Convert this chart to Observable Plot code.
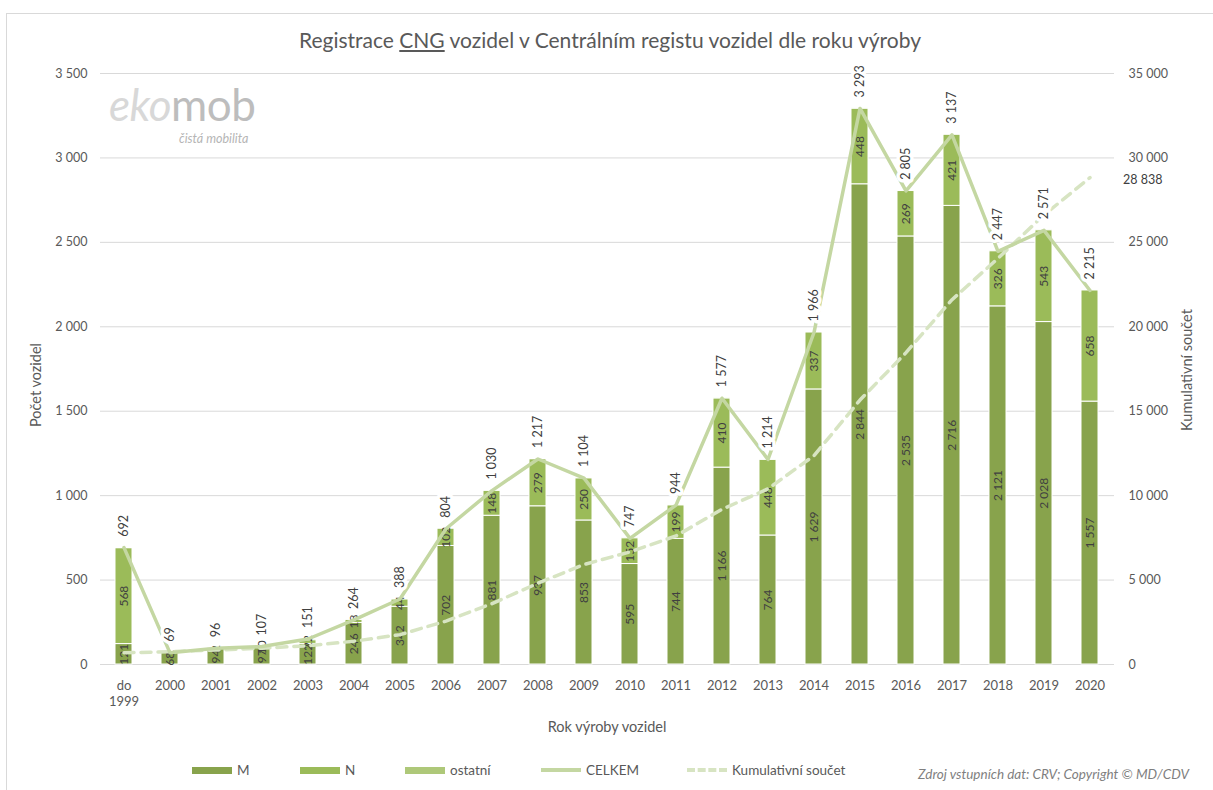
<!DOCTYPE html>
<html>
<head>
<meta charset="utf-8">
<script src="https://cdn.jsdelivr.net/npm/d3@7"></script>
<script src="https://cdn.jsdelivr.net/npm/@observablehq/plot@0.6"></script>
<style>
  body { margin: 0; background: #fff; font-family: Lato, "Open Sans", sans-serif; }
  #wrap { position: relative; width: 1213px; height: 790px; overflow: hidden; background: #fff; }
  #frame { position: absolute; left: 6px; top: 13px; width: 1240px; height: 800px; border: 1px solid #d9d9d9; }
  #chart { position: absolute; left: 0; top: 0; }
  .abs { position: absolute; white-space: nowrap; }
  #title { left: 0; width: 1220px; top: 27px; text-align: center; font-size: 21px; color: #595959; }
  #ytitle { left: 35px; top: 385px; transform: translate(-50%, -50%) rotate(-90deg); font-size: 14.5px; color: #595959; }
  #y2title { left: 1186px; top: 370px; transform: translate(-50%, -50%) rotate(-90deg); font-size: 14.5px; color: #595959; }
  #xtitle { left: 0; width: 1214px; top: 718px; text-align: center; font-size: 14.5px; color: #595959; }
  #logo { left: 109px; top: 86px; width: 170px; height: 62px; }
  #logo .big { position: absolute; left: 0; top: 0; height: 36px; font-size: 44px; line-height: 36px; letter-spacing: -0.5px; }
  #logo .big i { color: #d8d8d8; }
  #logo .big span { color: #bdbdbd; }
  #logo .small { position: absolute; left: 70px; top: 46px; font-size: 12.5px; line-height: 13px; font-style: italic; color: #b5b5b5; }
  .leg { top: 762px; font-size: 13.5px; color: #595959; display: flex; align-items: center; }
  .sw { display: inline-block; width: 40px; margin-right: 5px; }
  #source { left: 918px; top: 766px; font-size: 13.5px; font-style: italic; color: #7f7f7f; }
</style>
</head>
<body>
<div id="wrap">
  <div id="frame"></div>
  <div id="chart"></div>
  <div id="title" class="abs">Registrace <u>CNG</u> vozidel v Centrálním registu vozidel dle roku výroby</div>
  <div id="logo" class="abs"><div class="big"><i>eko</i><span>mob</span></div><div class="small">čistá mobilita</div></div>
  <div id="ytitle" class="abs">Počet vozidel</div>
  <div id="y2title" class="abs">Kumulativní součet</div>
  <div id="xtitle" class="abs">Rok výroby vozidel</div>
  <div id="legend"></div>
  <div id="source" class="abs">Zdroj vstupních dat: CRV; Copyright © MD/CDV</div>
</div>
<script>
// ---- data ----
const years = ["do\n1999","2000","2001","2002","2003","2004","2005","2006","2007","2008","2009","2010","2011","2012","2013","2014","2015","2016","2017","2018","2019","2020"];
const seriesM = [121, 68, 94, 97, 122, 246, 342, 702, 881, 937, 853, 595, 744, 1166, 764, 1629, 2844, 2535, 2716, 2121, 2028, 1557];
const seriesN = [568, 1, 2, 10, 22, 18, 44, 102, 148, 279, 250, 152, 199, 410, 448, 337, 448, 269, 421, 326, 543, 658];
const seriesOstatni = [3, 0, 0, 0, 7, 0, 2, 0, 1, 1, 1, 0, 1, 1, 2, 0, 1, 1, 0, 0, 0, 0];
const celkem = [692, 69, 96, 107, 151, 264, 388, 804, 1030, 1217, 1104, 747, 944, 1577, 1214, 1966, 3293, 2805, 3137, 2447, 2571, 2215];
const kumulativni = [692, 761, 857, 964, 1115, 1379, 1767, 2571, 3601, 4818, 5922, 6669, 7613, 9190, 10404, 12370, 15663, 18468, 21605, 24052, 26623, 28838];
const leftTicks = [0, 500, 1000, 1500, 2000, 2500, 3000, 3500];
const rightTicks = [0, 5000, 10000, 15000, 20000, 25000, 30000, 35000];
const seriesNames = ["M", "N", "ostatní"];

// ---- styles ----
const colors = {"M": "#88a34c", "N": "#9bbb59", "ostatní": "#aec879"};
const lineColor = "#c4d7a2";
const dashColor = "#d7e4c2";
const textColor = "#404040";
const axisColor = "#595959";

const loc = d3.formatLocale({decimal: ",", thousands: "\u00a0", grouping: [3]});
const fmt = loc.format(",d");
const ratio = rightTicks[rightTicks.length - 1] / leftTicks[leftTicks.length - 1];

const seriesArrays = [seriesM, seriesN, seriesOstatni];
const stackRows = [];
years.forEach((y, i) => {
  seriesArrays.forEach((arr, k) => stackRows.push({year: y, series: seriesNames[k], value: arr[i]}));
});
const rows = years.map((y, i) => ({
  year: y, M: seriesM[i], N: seriesN[i], total: celkem[i], cum: kumulativni[i] / ratio, cumRaw: kumulativni[i]
}));

const W = 1213, H = 720;
const chart = Plot.plot({
  width: W, height: H,
  marginTop: 73, marginBottom: 56, marginLeft: 100, marginRight: 99,
  style: {fontFamily: "Lato, 'Open Sans', sans-serif", fontSize: "12.5px", color: axisColor, background: "transparent"},
  x: {domain: years, paddingInner: 0.62, paddingOuter: 0.26, label: null},
  y: {domain: [0, 3500], label: null},
  color: {domain: seriesNames, range: seriesNames.map(s => colors[s])},
  marks: [
    Plot.gridY(leftTicks, {stroke: "#d9d9d9", strokeOpacity: 1, strokeWidth: 1}),
    Plot.axisY(leftTicks, {tickSize: 0, tickPadding: 13, tickFormat: fmt, label: null, fill: axisColor, fontSize: 12.5}),
    Plot.axisY(leftTicks, {anchor: "right", tickSize: 0, tickPadding: 14, tickFormat: d => fmt(d * ratio), label: null, fill: axisColor, fontSize: 12.5}),
    Plot.axisX({tickSize: 0, tickPadding: 14, label: null, fill: axisColor, fontSize: 13, lineHeight: 1.25}),
    Plot.barY(stackRows, {x: "year", y: "value", fill: "series", stroke: "white", strokeWidth: 1}),
    Plot.text(rows, {x: "year", y: d => d.M / 2, text: d => fmt(d.M), rotate: -90, fill: textColor, fontSize: 12}),
    Plot.text(rows, {x: "year", y: d => d.M + d.N / 2, text: d => fmt(d.N), rotate: -90, fill: textColor, fontSize: 12}),
    Plot.line(rows, {x: "year", y: "cum", stroke: dashColor, strokeWidth: 3.5, strokeDasharray: "10,7"}),
    Plot.line(rows, {x: "year", y: "total", stroke: lineColor, strokeWidth: 3.5}),
    Plot.text(rows, {x: "year", y: "total", text: d => fmt(d.total), rotate: -90, textAnchor: "start", dy: -11,
      fill: textColor, fontSize: 12.5, stroke: "white", strokeWidth: 7, paintOrder: "stroke"}),
    Plot.text(rows.slice(-1), {x: "year", y: "cum", text: d => fmt(d.cumRaw), textAnchor: "start", dx: 33, dy: 2,
      fill: textColor, fontSize: 12.5, stroke: "white", strokeWidth: 5, paintOrder: "stroke"})
  ]
});
document.getElementById("chart").appendChild(chart);

// ---- legend ----
const legendItems = [
  {label: "M", x: 192, type: "rect", color: colors["M"]},
  {label: "N", x: 300, type: "rect", color: colors["N"]},
  {label: "ostatní", x: 405, type: "rect", color: colors["ostatní"]},
  {label: "CELKEM", x: 541, type: "line", color: lineColor},
  {label: "Kumulativní součet", x: 687, type: "dash", color: dashColor}
];
const legend = document.getElementById("legend");
legendItems.forEach(it => {
  const d = document.createElement("div");
  d.className = "abs leg";
  d.style.left = it.x + "px";
  const sw = document.createElement("span");
  sw.className = "sw";
  if (it.type === "rect") { sw.style.height = "7px"; sw.style.background = it.color; }
  else if (it.type === "line") { sw.style.height = "4px"; sw.style.background = it.color; }
  else { sw.style.height = "0px"; sw.style.borderTop = "4px dashed " + it.color; }
  d.appendChild(sw);
  const t = document.createElement("span");
  t.textContent = it.label;
  d.appendChild(t);
  legend.appendChild(d);
});
</script>
</body>
</html>
